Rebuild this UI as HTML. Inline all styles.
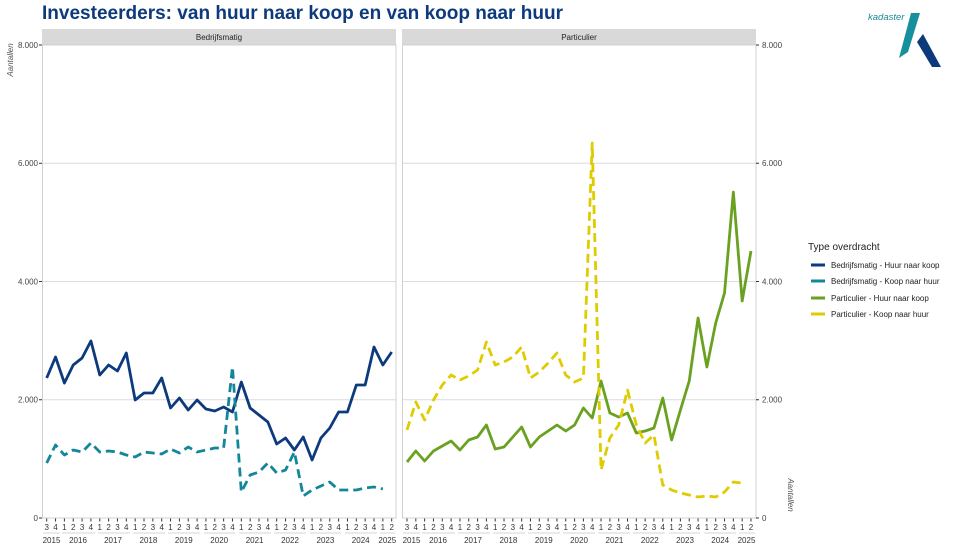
<!DOCTYPE html>
<html><head><meta charset="utf-8"><style>
body{margin:0;background:#fff;}
svg{display:block;font-family:"Liberation Sans",sans-serif;}
</style></head><body>
<svg width="960" height="548" viewBox="0 0 960 548" xmlns="http://www.w3.org/2000/svg">
<text x="42" y="19" font-size="19" font-weight="bold" fill="#0d3a7d" textLength="521" lengthAdjust="spacingAndGlyphs">Investeerders: van huur naar koop en van koop naar huur</text>
<!-- logo -->
<text x="868" y="20" font-size="9.5" font-style="italic" fill="#1a8a96">kadaster</text>
<polygon points="911,13 920,13 908,52 899,58" fill="#15909c"/>
<polygon points="917,42 923,34 941,67 932,67" fill="#0d3a7d"/>
<!-- strips -->
<rect x="42" y="29" width="354" height="16" fill="#d9d9d9"/>
<rect x="402" y="29" width="354" height="16" fill="#d9d9d9"/>
<text x="219" y="40" font-size="8" text-anchor="middle" fill="#222">Bedrijfsmatig</text>
<text x="579" y="40" font-size="8" text-anchor="middle" fill="#222">Particulier</text>
<!-- grids -->
<g stroke="#dcdcdc" stroke-width="1">
<line x1="42" x2="396" y1="399.75" y2="399.75"/><line x1="42" x2="396" y1="281.5" y2="281.5"/><line x1="42" x2="396" y1="163.25" y2="163.25"/>
<line x1="402" x2="756" y1="399.75" y2="399.75"/><line x1="402" x2="756" y1="281.5" y2="281.5"/><line x1="402" x2="756" y1="163.25" y2="163.25"/>
</g>
<rect x="42.5" y="45" width="353.5" height="473" fill="none" stroke="#d0d0d0"/>
<rect x="402.5" y="45" width="353.5" height="473" fill="none" stroke="#d0d0d0"/>
<!-- y axes -->
<g font-size="8" fill="#444">
<text x="38" y="48" text-anchor="end">8.000</text><text x="38" y="166" text-anchor="end">6.000</text><text x="38" y="284.5" text-anchor="end">4.000</text><text x="38" y="402.5" text-anchor="end">2.000</text><text x="38" y="521" text-anchor="end">0</text>
<text x="762" y="48">8.000</text><text x="762" y="166">6.000</text><text x="762" y="284.5">4.000</text><text x="762" y="402.5">2.000</text><text x="762" y="521">0</text>
</g>
<g stroke="#333" stroke-width="1">
<line x1="39" x2="42" y1="45" y2="45"/><line x1="39" x2="42" y1="163.25" y2="163.25"/><line x1="39" x2="42" y1="281.5" y2="281.5"/><line x1="39" x2="42" y1="399.75" y2="399.75"/><line x1="39" x2="42" y1="518" y2="518"/>
<line x1="756" x2="759" y1="45" y2="45"/><line x1="756" x2="759" y1="163.25" y2="163.25"/><line x1="756" x2="759" y1="281.5" y2="281.5"/><line x1="756" x2="759" y1="399.75" y2="399.75"/><line x1="756" x2="759" y1="518" y2="518"/>
</g>
<text transform="translate(13,60) rotate(-90)" font-size="8" font-style="italic" fill="#555" text-anchor="middle">Aantallen</text>
<text transform="translate(788,495) rotate(90)" font-size="8" font-style="italic" fill="#555" text-anchor="middle">Aantallen</text>
<!-- x ticks -->
<line x1="46.2" x2="395" y1="520" y2="520" stroke="#333" stroke-width="3" stroke-dasharray="1 7.846"/>
<line x1="406.5" x2="755" y1="520" y2="520" stroke="#333" stroke-width="3" stroke-dasharray="1 7.82"/>
<!-- year underline bars -->
<g stroke="#e4e4e4" stroke-width="1.5">
<line x1="43" x2="60" y1="533" y2="533"/><line x1="62" x2="95" y1="533" y2="533"/><line x1="98" x2="130" y1="533" y2="533"/><line x1="133" x2="165" y1="533" y2="533"/><line x1="168" x2="200" y1="533" y2="533"/><line x1="204" x2="235" y1="533" y2="533"/><line x1="239" x2="271" y1="533" y2="533"/><line x1="274" x2="306" y1="533" y2="533"/><line x1="310" x2="341" y1="533" y2="533"/><line x1="345" x2="377" y1="533" y2="533"/><line x1="380" x2="395" y1="533" y2="533"/>
<line x1="403" x2="420" y1="533" y2="533"/><line x1="422" x2="455" y1="533" y2="533"/><line x1="458" x2="490" y1="533" y2="533"/><line x1="493" x2="525" y1="533" y2="533"/><line x1="528" x2="560" y1="533" y2="533"/><line x1="563" x2="595" y1="533" y2="533"/><line x1="598" x2="630" y1="533" y2="533"/><line x1="633" x2="665" y1="533" y2="533"/><line x1="669" x2="700" y1="533" y2="533"/><line x1="704" x2="736" y1="533" y2="533"/><line x1="739" x2="755" y1="533" y2="533"/>
</g>
<g font-size="8" fill="#333" text-anchor="middle">
<g transform="translate(46.7,0)">
<text y="530" x="0 8.8 17.7 26.5 35.4 44.2 53.1 61.9 70.8 79.6 88.5 97.3 106.2 115 123.8 132.7 141.5 150.4 159.2 168.1 176.9 185.8 194.6 203.5 212.3 221.2 230 238.8 247.7 256.5 265.4 274.2 283.1 291.9 300.8 309.6 318.5 327.3 336.2 345">3412341234123412341234123412341234123412</text>
</g>
<g transform="translate(407,0) scale(0.997,1)">
<text y="530" x="0 8.8 17.7 26.5 35.4 44.2 53.1 61.9 70.8 79.6 88.5 97.3 106.2 115 123.8 132.7 141.5 150.4 159.2 168.1 176.9 185.8 194.6 203.5 212.3 221.2 230 238.8 247.7 256.5 265.4 274.2 283.1 291.9 300.8 309.6 318.5 327.3 336.2 345">3412341234123412341234123412341234123412</text>
</g>
</g>
<g font-size="8" fill="#333" text-anchor="middle">
<text x="51.5" y="543">2015</text><text x="78" y="543">2016</text><text x="113" y="543">2017</text><text x="148.4" y="543">2018</text><text x="183.8" y="543">2019</text><text x="219.2" y="543">2020</text><text x="254.6" y="543">2021</text><text x="290" y="543">2022</text><text x="325.4" y="543">2023</text><text x="360.7" y="543">2024</text><text x="387.3" y="543">2025</text>
<text x="411.5" y="543">2015</text><text x="438" y="543">2016</text><text x="473" y="543">2017</text><text x="508.4" y="543">2018</text><text x="543.8" y="543">2019</text><text x="579" y="543">2020</text><text x="614.4" y="543">2021</text><text x="649.8" y="543">2022</text><text x="685" y="543">2023</text><text x="720.2" y="543">2024</text><text x="746.5" y="543">2025</text>
</g>
<!-- series left -->
<g transform="translate(46.7,0) scale(8.846,1)" fill="none" stroke-width="2.8" stroke-linejoin="round">
<polyline vector-effect="non-scaling-stroke" stroke="#0d3a7d" points="0,378 1,357 2,383 3,365 4,358 5,341 6,375 7,365 8,371 9,353 10,400 11,393 12,393 13,378 14,408 15,398 16,410 17,400 18,409 19,411 20,407 21,412 22,382 23,408 24,415 25,422 26,444 27,438 28,450 29,437 30,460 31,438 32,428 33,412 34,412 35,385 36,385 37,347 38,365 39,352"/>
<polyline vector-effect="non-scaling-stroke" stroke="#13879a" stroke-dasharray="9 5" points="0,463 1,445 2,455 3,450 4,452 5,443 6,452 7,451 8,452 9,455 10,457 11,452 12,453 13,454 14,449 15,453 16,447 17,452 18,450 19,448 20,448 21,367 22,492 23,475 24,472 25,463 26,473 27,470 28,452 29,496 30,490 31,486 32,482 33,490 34,490 35,490 36,488 37,487 38,489"/>
</g>
<!-- series right -->
<g transform="translate(407,0) scale(8.82,1)" fill="none" stroke-width="2.8" stroke-linejoin="round">
<polyline vector-effect="non-scaling-stroke" stroke="#6aa121" points="0,462 1,451 2,461 3,451 4,446 5,441 6,450 7,440 8,437 9,425 10,449 11,447 12,437 13,427 14,447 15,437 16,431 17,425 18,431 19,425 20,408 21,418 22,381 23,413 24,417 25,413 26,433 27,431 28,428 29,398 30,440 31,410 32,381 33,318 34,367 35,323 36,293 37,192 38,301 39,251"/>
<polyline vector-effect="non-scaling-stroke" stroke="#dfcc00" stroke-dasharray="9 5" points="0,430 1,402 2,420 3,400 4,385 5,375 6,380 7,376 8,370 9,342 10,365 11,362 12,357 13,347 14,378 15,372 16,363 17,353 18,375 19,382 20,378 21,143 22,470 23,438 24,425 25,390 26,425 27,443 28,435 29,485 30,490 31,493 32,495 33,497 34,496 35,497 36,492 37,482 38,483"/>
</g>
<!-- legend -->
<text x="808" y="250" font-size="10" fill="#222">Type overdracht</text>
<g stroke-width="3">
<line x1="811" x2="825" y1="265" y2="265" stroke="#0d3a7d"/>
<line x1="811" x2="825" y1="281" y2="281" stroke="#13879a"/>
<line x1="811" x2="825" y1="298" y2="298" stroke="#6aa121"/>
<line x1="811" x2="825" y1="314" y2="314" stroke="#dfcc00"/>
</g>
<g font-size="8" fill="#222">
<text x="831" y="268">Bedrijfsmatig - Huur naar koop</text>
<text x="831" y="284">Bedrijfsmatig - Koop naar huur</text>
<text x="831" y="301">Particulier - Huur naar koop</text>
<text x="831" y="317">Particulier - Koop naar huur</text>
</g>
</svg>
</body></html>
